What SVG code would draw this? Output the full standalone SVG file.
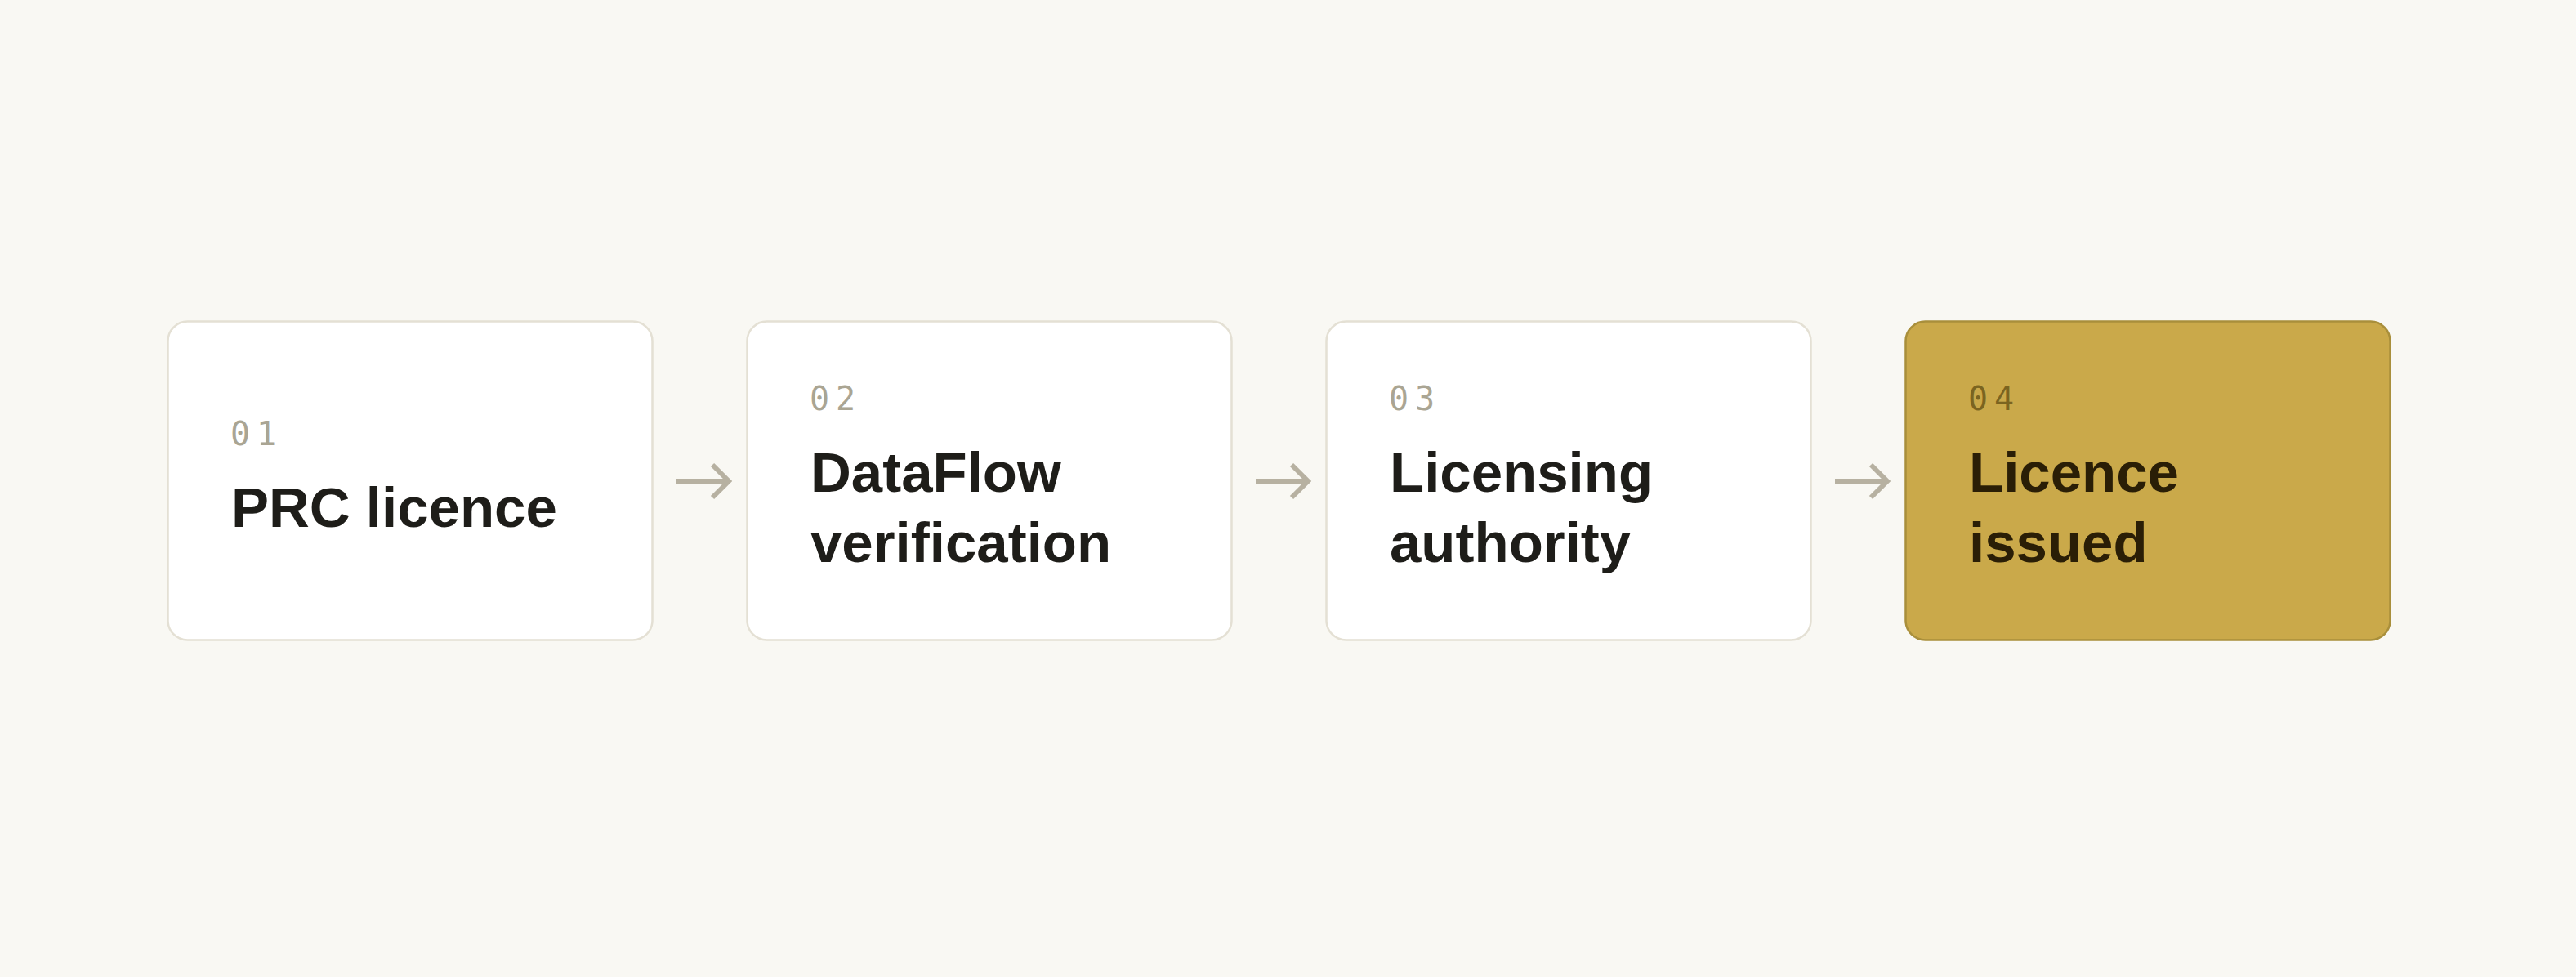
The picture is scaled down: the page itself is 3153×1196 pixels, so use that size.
<svg xmlns="http://www.w3.org/2000/svg" width="3153" height="1196" viewBox="0 0 3153 1196">
  <style>
    .card { fill: #ffffff; stroke: #e4e0d4; stroke-width: 2.5; }
    .card.hl { fill: #caa94a; stroke: #a98f3b; }
    .num { font-family: "DejaVu Sans Mono", "Liberation Mono", monospace; font-size: 40px; letter-spacing: 8px; fill: #aaa593; }
    .hl-num { fill: #7b6420; }
    .title { font-family: "Liberation Sans", Arial, sans-serif; font-weight: 700; font-size: 69px; fill: #1e1d19; }
    .hl-title { fill: #2a1e06; }
    .arrow { fill: none; stroke: #b7b1a1; stroke-width: 6; stroke-linejoin: miter; }
  </style>
  <rect x="0" y="0" width="3153" height="1196" fill="#f9f8f3"/>

  <g id="connectors">
    <g id="c1"><line class="arrow" x1="828" y1="589" x2="891" y2="589"/><polyline class="arrow" points="872,569 892,589 872,609"/></g>
    <g id="c2"><line class="arrow" x1="1537" y1="589" x2="1600" y2="589"/><polyline class="arrow" points="1581,569 1601,589 1581,609"/></g>
    <g id="c3"><line class="arrow" x1="2246" y1="589" x2="2309" y2="589"/><polyline class="arrow" points="2290,569 2310,589 2290,609"/></g>
  </g>

  <g id="node1">
    <rect class="card" x="205.5" y="393.5" width="593" height="390" rx="24"/>
    <text class="num" x="282" y="545">01</text>
    <text class="title" x="283" y="645">PRC licence</text>
  </g>

  <g id="node2">
    <rect class="card" x="914.5" y="393.5" width="593" height="390" rx="24"/>
    <text class="num" x="991" y="502">02</text>
    <text class="title" x="992" y="602">DataFlow</text>
    <text class="title" x="992" y="688">verification</text>
  </g>

  <g id="node3">
    <rect class="card" x="1623.5" y="393.5" width="593" height="390" rx="24"/>
    <text class="num" x="1700" y="502">03</text>
    <text class="title" x="1701" y="602">Licensing</text>
    <text class="title" x="1701" y="688">authority</text>
  </g>

  <g id="node4">
    <rect class="card hl" x="2332.5" y="393.5" width="593" height="390" rx="24"/>
    <text class="num hl-num" x="2409" y="502">04</text>
    <text class="title hl-title" x="2410" y="602">Licence</text>
    <text class="title hl-title" x="2410" y="688">issued</text>
  </g>
</svg>
